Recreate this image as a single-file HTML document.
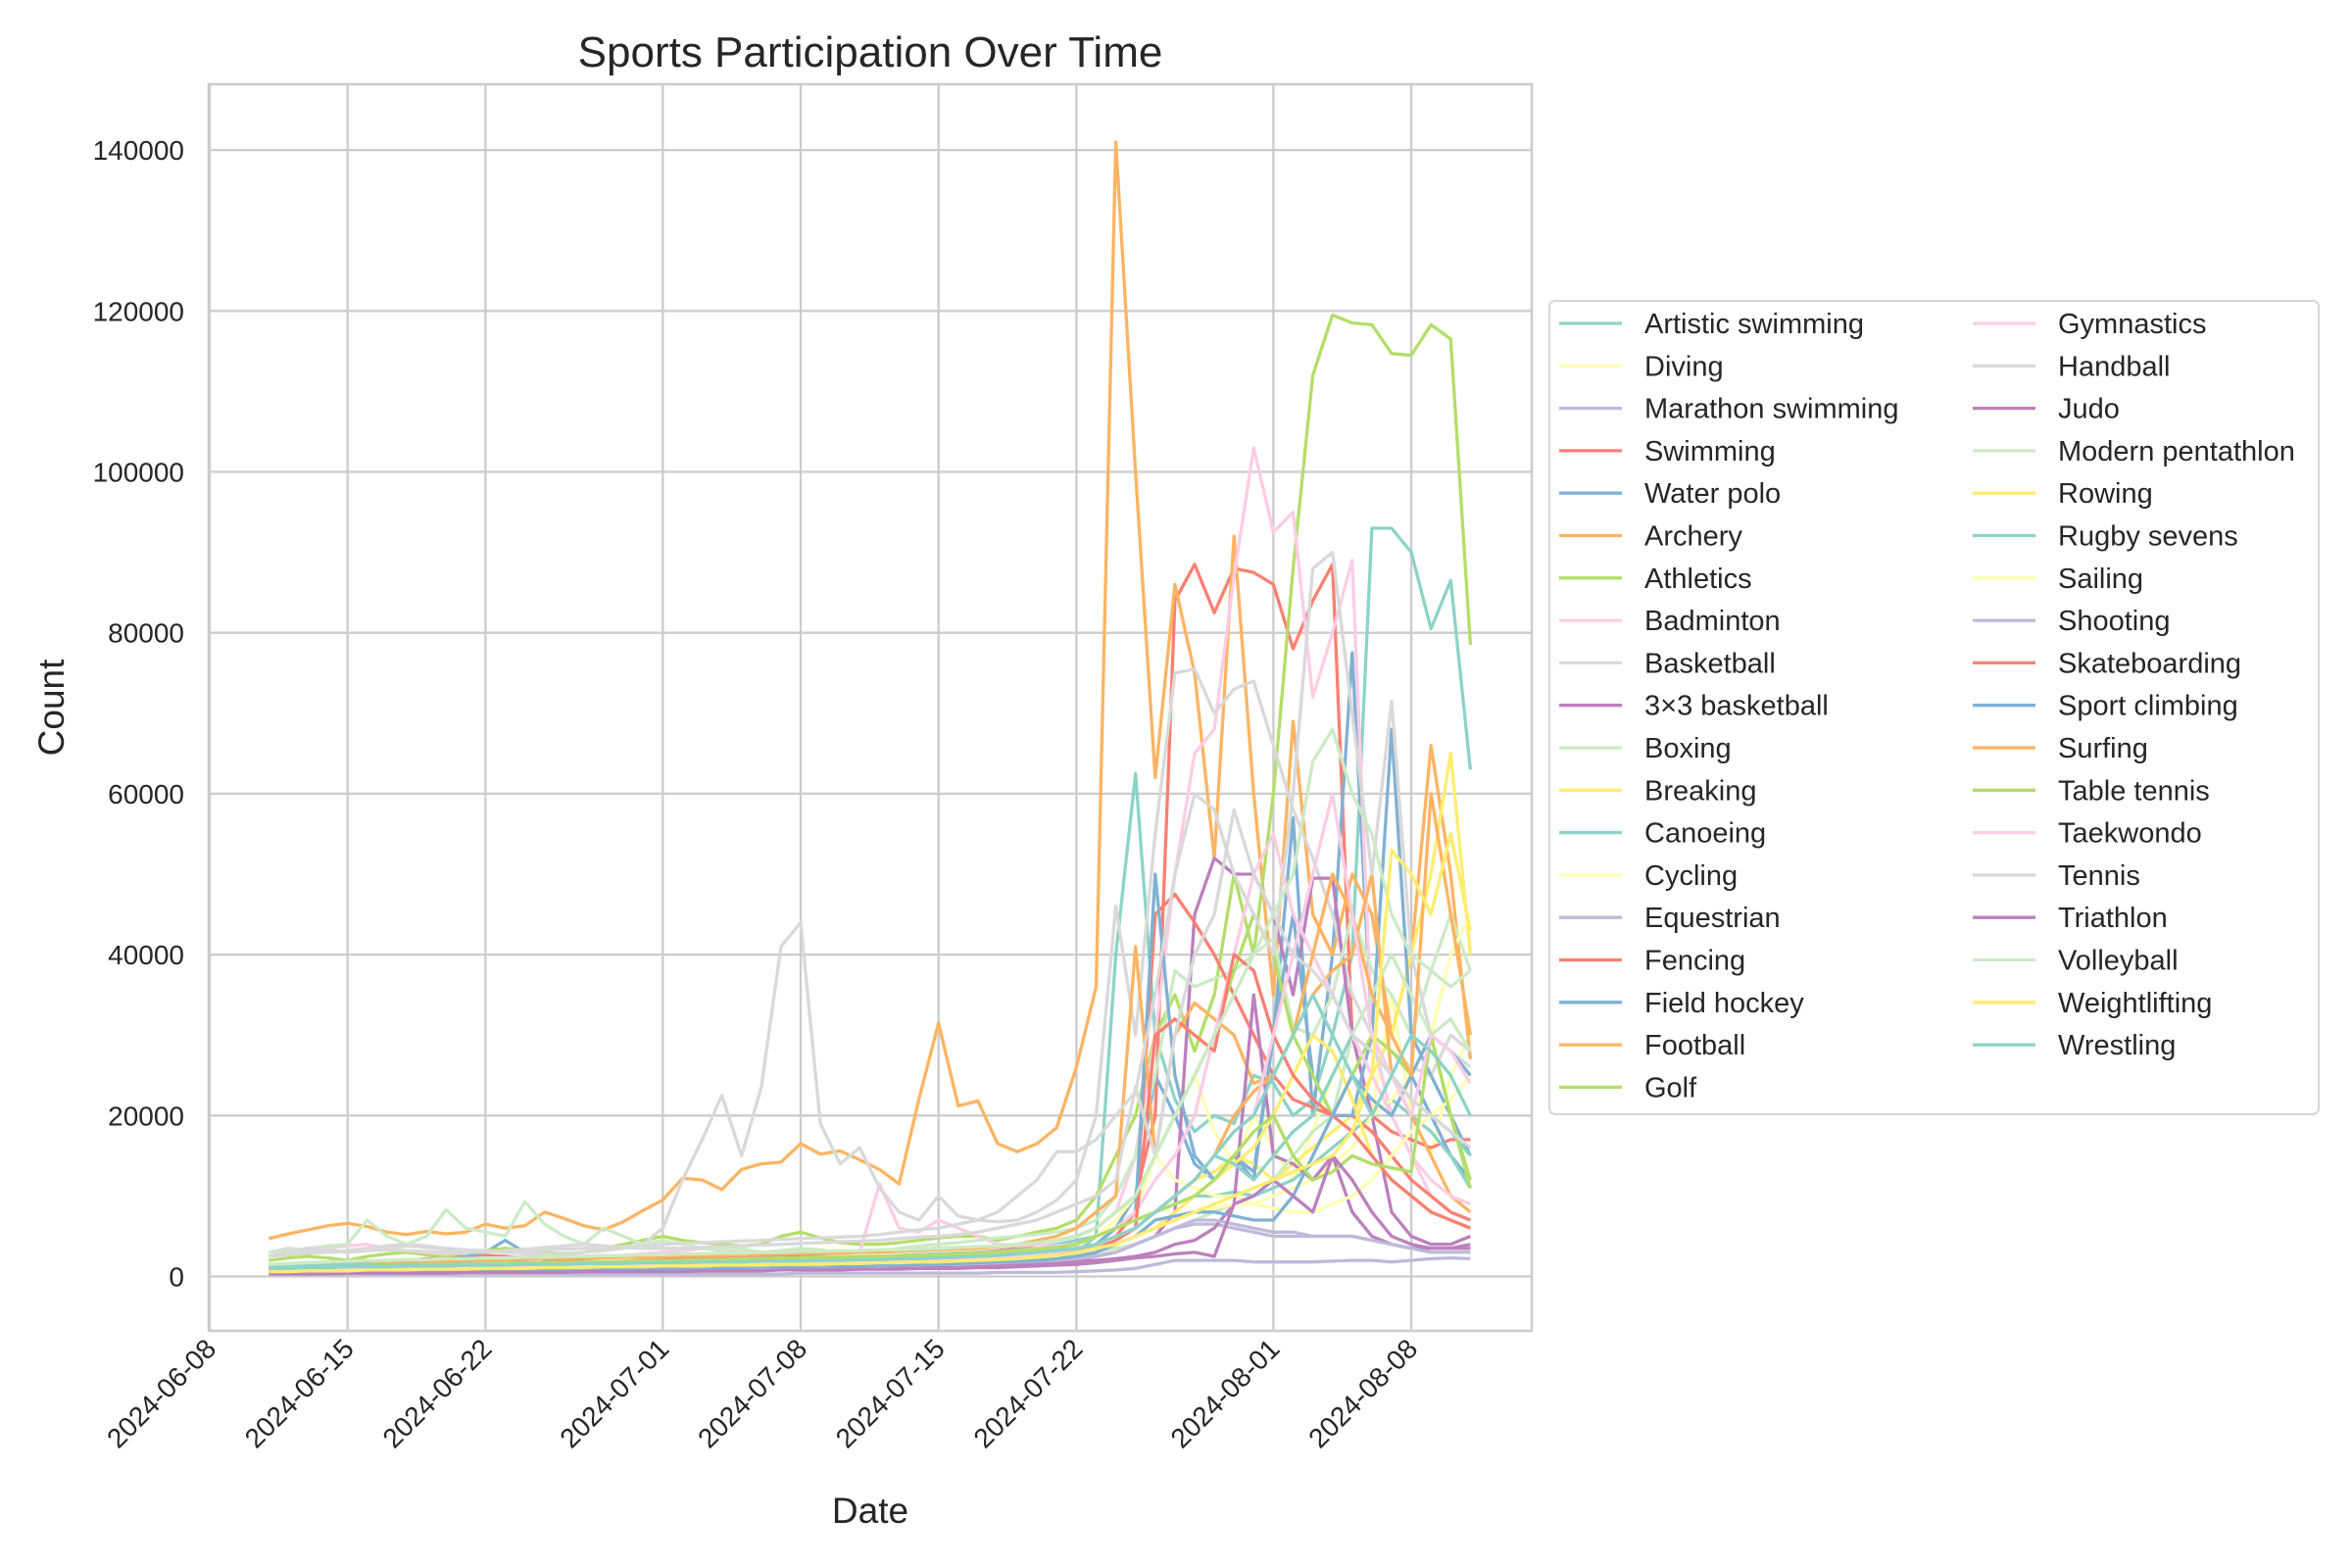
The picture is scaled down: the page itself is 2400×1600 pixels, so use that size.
<!DOCTYPE html>
<html><head><meta charset="utf-8"><style>
html,body{margin:0;padding:0;background:#fff;}
svg{display:block;font-family:"Liberation Sans",sans-serif;}
</style></head><body>
<svg id="chart" width="2400" height="1600" viewBox="0 0 2400 1600" xmlns="http://www.w3.org/2000/svg">
<rect width="2400" height="1600" fill="#fff"/>
<g id="grid"></g>
<g id="series"></g>
<rect x="213" y="86" width="1350" height="1272" fill="none" stroke="#cccccc" stroke-width="2.5"/>
<g id="yticks"></g>
<g id="xticks"></g>
<text x="888" y="68" font-size="44" text-anchor="middle" fill="#262626">Sports Participation Over Time</text>
<text x="888" y="1554" font-size="37" text-anchor="middle" fill="#262626">Date</text>
<text transform="translate(65,722) rotate(-90)" font-size="37" text-anchor="middle" fill="#262626">Count</text>
<g id="legend"></g>
</svg>
<script>
const sportNames=["Artistic swimming","Diving","Marathon swimming","Swimming","Water polo","Archery","Athletics","Badminton","Basketball","3×3 basketball","Boxing","Breaking","Canoeing","Cycling","Equestrian","Fencing","Field hockey","Football","Golf","Gymnastics","Handball","Judo","Modern pentathlon","Rowing","Rugby sevens","Sailing","Shooting","Skateboarding","Sport climbing","Surfing","Table tennis","Taekwondo","Tennis","Triathlon","Volleyball","Weightlifting","Wrestling"];
const palette=["#8dd3c7","#ffffb3","#bebada","#fb8072","#80b1d3","#fdb462","#b3de69","#fccde5","#d9d9d9","#bc80bd","#ccebc5","#ffed6f"];
const startDay=3;
const yTicks=[0,20000,40000,60000,80000,100000,120000,140000];
const xTickLabels=["2024-06-08","2024-06-15","2024-06-22","2024-07-01","2024-07-08","2024-07-15","2024-07-22","2024-08-01","2024-08-08"];
const xTickDays=[0,7,14,23,30,37,44,54,61];
const s0=[0.8,0.9,1,1.1,1.2,1.3,1.2,1.1,1,1.2,1.5,1.4,1.3,1.2,1.1,1,1.2,1.3,1.2,1.1,1.2,1.3,1.2,1.1,1.2,1.3,1.4,1.5,1.4,1.3,1.2,1.3,1.4,1.5,1.6,1.7,1.8,1.9,2,2.2,2.5,3,5,40,62.5,30,22,18,20,19,25,24,20,22,30,40,93,93,90,80.5,86.5,63];
const s1=[0.5,0.6,0.6,0.7,0.7,0.8,0.7,0.7,0.6,0.7,0.8,0.8,0.7,0.7,0.6,0.7,0.8,0.8,0.9,0.8,0.9,0.9,1,1,1,1.1,1.1,1.2,1.2,1.1,1.1,1.2,1.3,1.3,1.4,1.4,1.5,1.6,1.8,2,2.4,3,4,6,8,15,20,25,18,14,20,16,12,18,25,30,20,35,20,15,25,30];
const s2=[0.3,0.3,0.3,0.3,0.3,0.3,0.3,0.3,0.3,0.3,0.3,0.3,0.3,0.3,0.3,0.3,0.3,0.3,0.3,0.3,0.3,0.3,0.3,0.3,0.3,0.3,0.3,0.4,0.4,0.4,0.4,0.4,0.4,0.4,0.4,0.4,0.4,0.5,0.5,0.5,0.5,0.6,0.7,0.8,1,1.5,2,2,2,2,1.8,1.8,1.8,1.8,1.9,2,2,1.8,2,2.2,2.3,2.2];
const s3=[1,1.1,1.2,1.3,1.5,1.6,1.8,2,2.2,2.3,2.5,2.6,2.5,2.3,2.2,2,1.9,1.8,1.9,2,2.1,2.2,2.3,2.3,2.4,2.5,2.5,2.6,2.5,2.4,2.4,2.5,2.6,2.7,2.8,2.9,3,3.2,3.5,4,4.5,5,6,8,10,20,84,88.5,82.5,88,87.5,86,78,84,88.5,30,20,18,17,16,17,17];
const s4=[0.8,0.9,1,1,1.1,1.2,1.3,1.5,1.7,2,2.5,3,4.5,3,2,1.5,1.3,1.2,1.1,1,1,1.1,1.1,1.2,1.2,1.3,1.3,1.4,1.4,1.3,1.3,1.4,1.5,1.5,1.6,1.7,1.8,2,2.2,2.5,3,3.5,4,6,10,25,20,14,12,15,13,30,57,20,40,77.5,30,20,25,20,15,12];
const s5=[4.7,5.3,5.8,6.3,6.6,6.2,5.5,5.2,5.6,5.3,5.5,6.5,6,6.3,8,7.2,6.3,5.8,6.8,8.2,9.5,12.2,12,10.8,13.3,14,14.2,16.5,15.2,15.6,14.5,13.3,11.5,22,31.5,21.2,21.8,16.5,15.5,16.5,18.5,26,36,141,100,62,86,75,52,92,60,35,69,45,40,50,45,30,40,66,50,27];
const s6=[2,2.3,2.5,2.3,2,2.5,2.8,3,2.7,2.5,3,3.2,3.5,3.2,3,2.8,3,3.5,4,4.5,5,4.5,4.2,4,3.8,4,5,5.5,4.8,4.2,4,4,4.2,4.5,4.8,5,5,4.5,5,5.5,6,7,10,15,20,30,35,28,35,50,40,60,88,112,119.5,118.5,118.3,114.7,114.5,118.3,116.5,78.5];
const s7=[2.5,3,3.2,3.5,3.8,4,3.5,3.2,3,2.8,3,3.2,3,2.8,2.6,2.5,2.4,2.5,2.6,2.8,3,3.2,3.5,3.3,3.2,3,3,3.2,3,2.8,3,11.5,6,5.5,7,6,5,4,3.8,4,4.5,5,6,8,15,30,50,65,68,87,103,92.5,95,72,80,89,30,20,15,10,8,7];
const s8=[3,3.5,3.2,3,3.2,3.5,3.8,4,3.8,3.5,3.3,3.2,3,3,2.8,2.9,3,3.2,3.5,4,6,12,17,22.5,15,23.5,41,44,19,14,16,11,8,7,10,7.5,7,6.8,7,8,9.5,12,20,46,30,55,75,75.5,70,73,74,66,58,52,45,35,30,28,26,25,30,28];
const s9=[0.5,0.5,0.6,0.6,0.6,0.7,0.7,0.7,0.7,0.8,0.8,0.8,0.8,0.8,0.9,0.9,0.9,0.9,1,1,1,1,1,1,1.1,1.1,1.1,1.2,1.2,1.2,1.2,1.3,1.3,1.3,1.4,1.4,1.4,1.5,1.5,1.6,1.8,2,2.5,3,4,5,8,45,52,50,50,45,35,49.5,49.5,30,20,8,5,4,4,5];
const s10=[3,3.2,3.5,3.8,4,7,5,4,5,8.3,6,5.5,5,9.3,6.5,5,4,6,5,4,4.5,4,3.5,3.2,3.5,3,3.2,3.5,3.3,3,3.2,3,3.5,3.8,4,4.2,4.5,4.8,5,5.2,5.5,6,7,10,15,25,38,36,37,38,40,42,31,30,35,45,38,35,30,38,45,38];
const s11=[0.6,0.7,0.7,0.8,0.8,0.9,0.9,1,1,1,1.1,1.1,1.1,1.2,1.2,1.2,1.3,1.3,1.3,1.4,1.4,1.5,1.5,1.5,1.6,1.6,1.7,1.7,1.8,1.8,1.9,1.9,2,2,2.1,2.2,2.3,2.5,2.7,3,3.3,4,5,6,7,8,10,12,13,15,14,12,14,16,18,20,25,30,40,50,65,40];
const s12=[1.5,1.5,1.6,1.7,1.8,1.8,1.7,1.6,1.5,1.6,1.7,1.8,1.8,1.7,1.6,1.5,1.6,1.7,1.8,1.9,2,2,2.1,2.1,2.2,2.2,2.3,2.3,2.4,2.4,2.5,2.5,2.6,2.7,2.8,2.9,3,3.1,3.3,3.5,4,4.5,5,6,7,8,9,10,10,10.5,10,11,12,14,16,18,20,22,20,18,15,11];
const s13=[1,1,1.1,1.1,1.2,1.2,1.2,1.3,1.3,1.3,1.4,1.4,1.4,1.5,1.5,1.5,1.6,1.6,1.6,1.7,1.7,1.8,1.8,1.9,1.9,2,2,2.1,2.1,2.2,2.2,2.3,2.3,2.4,2.5,2.6,2.7,2.8,3,3.2,3.5,4,5,7,10,15,12,11,10,10,9,10,11,12,14,16,20,22,25,30,40,45];
const s14=[0.8,0.8,0.9,0.9,0.9,1,1,1,1,1.1,1.1,1.1,1.1,1.2,1.2,1.2,1.2,1.3,1.3,1.3,1.3,1.4,1.4,1.4,1.5,1.5,1.5,1.6,1.6,1.6,1.7,1.7,1.7,1.8,1.8,1.9,1.9,2,2,2.1,2.2,2.4,2.6,3,4,5,6,6.5,6.5,6,5.5,5,5,5,5,5,4.5,4,3.5,3,3,3];
const s15=[0.8,0.8,0.9,0.9,1,1,1.1,1.1,1.1,1.2,1.2,1.2,1.3,1.3,1.3,1.4,1.4,1.4,1.5,1.5,1.5,1.6,1.6,1.6,1.7,1.7,1.8,1.8,1.8,1.9,1.9,2,2,2.1,2.1,2.2,2.3,2.4,2.5,2.7,3,3.5,4,5,8,45,47.5,44,40,35,30,25,22,21,20,20,18,15,12,10,8,7];
const s16=[0.5,0.5,0.6,0.6,0.6,0.7,0.7,0.7,0.8,0.8,0.8,0.9,0.9,0.9,1,1,1,1,1.1,1.1,1.1,1.2,1.2,1.2,1.3,1.3,1.3,1.4,1.4,1.4,1.5,1.5,1.5,1.6,1.6,1.7,1.8,1.9,2,2.2,2.5,3,4,6,8,50,25,15,12,15,12,30,45,25,20,20,30,68,30,25,20,15];
const s17=[1,1.1,1.2,1.3,1.4,1.5,1.6,1.7,1.8,1.9,2,2,2.1,2.1,2.2,2.2,2.3,2.3,2.4,2.4,2.5,2.5,2.6,2.6,2.7,2.7,2.8,2.8,2.9,2.9,3,3,3.1,3.2,3.3,3.4,3.5,3.7,4,4.5,5,6,8,10,41,15,30,34,32,30,24,25,30,35,38,40,50,25,20,15,10,8];
const s18=[1.5,1.6,1.7,1.8,1.9,2,2,2.1,2.1,2.2,2.2,2.3,2.3,2.4,2.4,2.5,2.5,2.6,2.6,2.7,2.7,2.8,2.8,2.9,2.9,3,3,3.1,3.1,3.2,3.2,3.3,3.3,3.4,3.5,3.6,3.7,3.8,4,4.2,4.5,5,6,8,10,15,20,25,30,38,45,40,30,25,20,25,30,28,25,30,20,12];
const s19=[1,1,1.1,1.1,1.2,1.2,1.3,1.3,1.4,1.4,1.5,1.5,1.6,1.6,1.7,1.7,1.8,1.8,1.9,1.9,2,2,2.1,2.1,2.2,2.2,2.3,2.3,2.4,2.4,2.5,2.5,2.6,2.6,2.7,2.8,2.9,3,3.2,3.5,3.8,4,5,6,8,12,15,20,30,40,50,55,45,40,35,30,25,20,15,12,10,9];
const s20=[2.5,2.7,2.9,3,3.1,3.2,3.3,3.2,3.1,3,3,3,3.1,3.2,3.3,3.4,3.5,3.6,3.7,3.8,4,4.1,4.2,4.3,4.4,4.5,4.6,4.7,4.8,4.9,5,5.2,5.5,5.8,6,6.5,7,8,10,12,15.5,15.5,17,20,23,35,50,60,58,50,45,40,60,88,90,70,50,71.5,40,30,28,26];
const s21=[0.4,0.4,0.5,0.5,0.5,0.5,0.6,0.6,0.6,0.6,0.7,0.7,0.7,0.7,0.8,0.8,0.8,0.8,0.9,0.9,0.9,0.9,1,1,1,1,1.1,1.1,1.1,1.2,1.2,1.2,1.3,1.3,1.3,1.4,1.4,1.5,1.5,1.6,1.7,1.8,2,2.2,2.5,3,4,4.5,6,9,35,15,14,12,15,8,5,4,3.5,3.5,3.5,4];
const s22=[0.6,0.6,0.7,0.7,0.7,0.8,0.8,0.8,0.8,0.9,0.9,0.9,1,1,1,1,1.1,1.1,1.1,1.2,1.2,1.2,1.3,1.3,1.3,1.4,1.4,1.4,1.5,1.5,1.5,1.6,1.6,1.7,1.7,1.8,1.8,1.9,2,2.1,2.3,2.5,3,3.5,4,5,6,7,8,9,10,12,15,18,20,30,35,40,35,30,32,28];
const s23=[0.7,0.7,0.8,0.8,0.8,0.9,0.9,0.9,1,1,1,1,1.1,1.1,1.1,1.2,1.2,1.2,1.3,1.3,1.3,1.4,1.4,1.4,1.5,1.5,1.5,1.6,1.6,1.6,1.7,1.7,1.8,1.8,1.9,1.9,2,2.1,2.2,2.4,2.6,3,3.5,4,5,6,8,10,12,14,16,20,25,30,28,22,15,12,10,8,7,6];
const s24=[1.2,1.2,1.3,1.3,1.4,1.4,1.4,1.5,1.5,1.5,1.6,1.6,1.6,1.7,1.7,1.7,1.8,1.8,1.8,1.9,1.9,1.9,2,2,2,2.1,2.1,2.1,2.2,2.2,2.3,2.3,2.4,2.4,2.5,2.5,2.6,2.7,2.8,3,3.3,3.5,4,5,6,8,10,12,15,14,12,15,18,20,25,30,28,25,22,20,18,15];
const s25=[0.8,0.8,0.9,0.9,0.9,1,1,1,1,1.1,1.1,1.1,1.2,1.2,1.2,1.2,1.3,1.3,1.3,1.4,1.4,1.4,1.5,1.5,1.5,1.6,1.6,1.6,1.7,1.7,1.8,1.8,1.9,1.9,2,2,2.1,2.2,2.3,2.5,2.7,3,3.5,4,5,6,7,8,8.5,9,9,8.5,8,8,9,10,12,15,18,20,22,25];
const s26=[0.5,0.5,0.5,0.6,0.6,0.6,0.6,0.7,0.7,0.7,0.7,0.8,0.8,0.8,0.8,0.9,0.9,0.9,0.9,1,1,1,1,1.1,1.1,1.1,1.2,1.2,1.2,1.3,1.3,1.3,1.4,1.4,1.5,1.5,1.6,1.7,1.8,1.9,2,2.2,2.5,3,4,5,6,7,7,6.5,6,5.5,5.5,5,5,5,4.5,4,3.5,3,3,3];
const s27=[0.6,0.7,0.7,0.8,0.8,0.8,0.9,0.9,0.9,1,1,1,1,1.1,1.1,1.1,1.2,1.2,1.2,1.3,1.3,1.3,1.4,1.4,1.4,1.5,1.5,1.5,1.6,1.6,1.7,1.7,1.8,1.8,1.9,2,2.1,2.2,2.4,2.6,2.8,3,3.5,4.5,6,30,32,30,28,40,38,30,25,22,20,18,15,12,10,8,7,6];
const s28=[0.5,0.5,0.5,0.6,0.6,0.6,0.6,0.7,0.7,0.7,0.7,0.8,0.8,0.8,0.8,0.9,0.9,0.9,1,1,1,1,1.1,1.1,1.1,1.2,1.2,1.2,1.3,1.3,1.3,1.4,1.4,1.5,1.5,1.6,1.7,1.8,1.9,2,2.2,2.5,3,4,5,7,7.5,8,8,7.5,7,7,10,15,20,25,22,20,25,30,28,25];
const s29=[0.8,0.8,0.9,0.9,0.9,1,1,1,1,1.1,1.1,1.1,1.2,1.2,1.2,1.3,1.3,1.3,1.4,1.4,1.4,1.5,1.5,1.5,1.6,1.6,1.7,1.7,1.8,1.8,1.9,1.9,2,2,2.1,2.2,2.3,2.4,2.6,2.8,3,3.5,4,5,6,8,10,12,15,20,23,25,30,40,50,45,35,30,25,60,45,30];
const s30=[1,1,1.1,1.1,1.2,1.2,1.3,1.3,1.4,1.4,1.5,1.5,1.6,1.6,1.7,1.7,1.8,1.8,1.9,1.9,2,2,2.1,2.1,2.2,2.2,2.3,2.3,2.4,2.4,2.5,2.5,2.6,2.6,2.7,2.8,2.9,3,3.2,3.4,3.6,4,5,6,7,8,9,10,12,15,18,20,15,12,13,15,14,13.5,13,30,20,11];
const s31=[0.8,0.8,0.9,0.9,0.9,1,1,1,1,1.1,1.1,1.1,1.2,1.2,1.2,1.3,1.3,1.3,1.4,1.4,1.4,1.5,1.5,1.5,1.6,1.6,1.7,1.7,1.8,1.8,1.9,1.9,2,2,2.1,2.2,2.3,2.4,2.6,2.8,3,3.5,4,5,6,8,10,12,15,18,20,30,40,50,60,45,30,25,20,30,28,24];
const s32=[2.5,3,3.5,3.3,3,3.2,3.5,3.8,3.6,3.4,3.2,3,3.2,3.4,3.6,3.8,4,3.8,3.6,3.5,3.5,3.5,3.6,3.7,3.8,3.9,4,4.1,4.2,4.3,4.4,4.5,4.7,4.9,5,5.2,5.5,6,6.5,7,8,9,10,12,23.5,15,30,40,45,58,50,45,40,38,35,30,28,25,22,20,18,16];
const s33=[0.3,0.3,0.3,0.3,0.4,0.4,0.4,0.4,0.4,0.4,0.5,0.5,0.5,0.5,0.5,0.5,0.6,0.6,0.6,0.6,0.6,0.6,0.7,0.7,0.7,0.7,0.8,0.8,0.8,0.8,0.9,0.9,0.9,1,1,1,1.1,1.1,1.2,1.3,1.4,1.5,1.7,2,2.3,2.5,2.8,3,2.5,9,10,12,10,8,15,12,8,5,4,3.5,3.5,3.5];
const s34=[1.5,1.6,1.7,1.8,1.9,2,2,2.1,2.1,2.2,2.2,2.3,2.3,2.4,2.4,2.5,2.5,2.6,2.6,2.7,2.7,2.8,2.8,2.9,2.9,3,3,3.1,3.1,3.2,3.2,3.3,3.3,3.4,3.5,3.6,3.7,3.8,4,4.2,4.5,5,6,8,10,15,20,25,30,35,40,45,50,64,68,60,55,45,40,38,36,38];
const s35=[0.6,0.6,0.7,0.7,0.7,0.8,0.8,0.8,0.9,0.9,0.9,1,1,1,1.1,1.1,1.1,1.2,1.2,1.2,1.3,1.3,1.3,1.4,1.4,1.4,1.5,1.5,1.5,1.6,1.6,1.7,1.7,1.8,1.8,1.9,2,2.1,2.2,2.4,2.6,3,3.5,4,5,6,7,8,9,10,11,12,13,14,15,18,25,53,50,45,55,43];
const s36=[1,1,1.1,1.1,1.2,1.2,1.2,1.3,1.3,1.3,1.4,1.4,1.4,1.5,1.5,1.5,1.6,1.6,1.6,1.7,1.7,1.7,1.8,1.8,1.8,1.9,1.9,1.9,2,2,2.1,2.1,2.2,2.2,2.3,2.4,2.5,2.6,2.8,3,3.2,3.5,4,5,6,8,10,12,15,18,20,25,30,35,30,25,20,25,30,28,25,20];
const seriesValues=[s0,s1,s2,s3,s4,s5,s6,s7,s8,s9,s10,s11,s12,s13,s14,s15,s16,s17,s18,s19,s20,s21,s22,s23,s24,s25,s26,s27,s28,s29,s30,s31,s32,s33,s34,s35,s36];
const valueUnit=1000;

const NS="http://www.w3.org/2000/svg";
const X0=214, DX=20.1, Y0=1302.5, PY=164.2/20000;
function xScale(day){return X0+day*DX;}
function yScale(v){return Y0-v*PY;}
function mk(tag,attrs,parent){const e=document.createElementNS(NS,tag);for(const k in attrs)e.setAttribute(k,attrs[k]);parent.appendChild(e);return e;}

const grid=document.getElementById('grid'),yt=document.getElementById('yticks'),xt=document.getElementById('xticks');
yTicks.forEach(v=>{
  const y=yScale(v);
  const l=mk('line',{x1:213,x2:1563,y1:y,y2:y,stroke:'#cccccc','stroke-width':2.3},grid);
  
  
  const t=mk('text',{x:188,y:y+10,'font-size':28,'text-anchor':'end',fill:'#262626'},yt);
  t.textContent=String(v);
  
  
});
xTickDays.forEach((d,i)=>{
  const x=xScale(d);
  const l=mk('line',{x1:x,x2:x,y1:86,y2:1358,stroke:'#cccccc','stroke-width':2.3},grid);
  
  
  const t=mk('text',{transform:`translate(${x+8},${1378}) rotate(-45)`,'font-size':28,'text-anchor':'end',fill:'#262626'},xt);
  t.textContent=xTickLabels[i];
  
  
});

const sg=document.getElementById('series');
seriesValues.forEach((vals,i)=>{
  const pts=vals.map((v,j)=>xScale(startDay+j).toFixed(1)+','+yScale(v*valueUnit).toFixed(1)).join(' ');
  const p=mk('polyline',{points:pts,fill:'none',stroke:palette[i%12],'stroke-width':3.3,'stroke-linejoin':'round'},sg);
  
  
});

const lg=document.getElementById('legend');
const box=mk('rect',{x:1581,y:307,width:785,height:830,rx:6,fill:'#fff',stroke:'#d6d6d6','stroke-width':2},lg);


sportNames.forEach((n,i)=>{
  const col=i<19?0:1, row=i<19?i:i-19;
  const lx=col?2013:1591, y=330+row*43.3;
  const g=mk('g',{},lg);
  
  
  mk('line',{x1:lx,x2:lx+64,y1:y,y2:y,stroke:palette[i%12],'stroke-width':3.3},g);
  const t=mk('text',{x:lx+87,y:y+10,'font-size':29,fill:'#262626'},g);
  t.textContent=n;
});
</script>
</body></html>
